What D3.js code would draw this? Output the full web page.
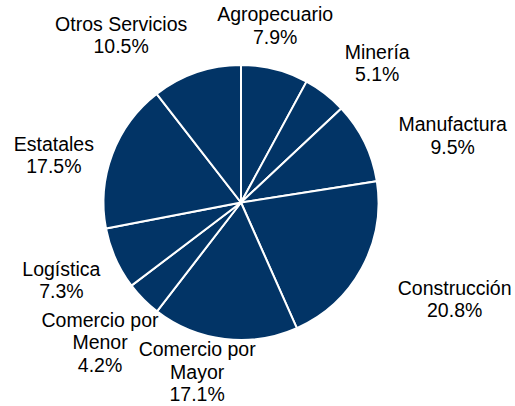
<!DOCTYPE html>
<html>
<head>
<meta charset="utf-8">
<script src="https://cdn.jsdelivr.net/npm/d3@7"></script>
<style>
  body { margin: 0; background: #fff; }
  text { font-family: "Liberation Sans", Arial, sans-serif; font-size: 19.5px; fill: #000; }
</style>
</head>
<body>
<div id="container"></div>
<script>
// sectores y participacion (%)
let sectors = ["Agropecuario", "Minería", "Manufactura", "Construcción", "Comercio por Mayor",
               "Comercio por Menor", "Logística", "Estatales", "Otros Servicios"];
let shares = [7.9, 5.1, 9.5, 20.8, 17.1, 4.2, 7.3, 17.5, 10.5];

let w = 515;
let h = 406;
let cx = 241;
let cy = 202.5;
let radius = 137.5;
let labelRadius = 200;
let lineH = 22.5;

// ajuste manual de etiquetas (tipo "best fit" de Excel)
let nudges = [[-15, 17], [14, 19], [32, 21], [38, 1], [-20, -29],
              [1, -1], [3, -4], [0, 23], [-55, 22]];

let svg = d3.select("#container")
  .append("svg")
  .attr("width", w)
  .attr("height", h);

let viz = svg.append("g")
  .attr("transform", "translate(" + cx + "," + cy + ")");

let pie = d3.pie().sort(null).value(d => d.value);
let data_ready = pie(sectors.map((s, i) => ({ key: s, value: shares[i] })));

let arc = d3.arc().innerRadius(0).outerRadius(radius);
let outerArc = d3.arc().innerRadius(labelRadius).outerRadius(labelRadius);

viz.selectAll("path")
  .data(data_ready)
  .enter()
  .append("path")
  .attr("d", arc)
  .attr("fill", "#023466")
  .attr("stroke", "#fff")
  .style("stroke-width", "2px");

let fmt = d3.format(".1f");

let labels = viz.selectAll("g.lbl")
  .data(data_ready)
  .enter()
  .append("g")
  .attr("class", "lbl")
  .attr("transform", (d, i) => {
    let p = outerArc.centroid(d);
    return "translate(" + (p[0] + nudges[i][0]) + "," + (p[1] + nudges[i][1]) + ")";
  });

labels.each(function(d) {
  let lines = d.data.key.replace(" por ", " por\n").split("\n");
  lines.push(fmt(d.data.value) + "%");
  let top = -(lines.length - 1) * lineH / 2;
  d3.select(this).selectAll("text")
    .data(lines)
    .enter()
    .append("text")
    .attr("text-anchor", "middle")
    .attr("y", (t, j) => top + j * lineH)
    .attr("dy", "0.35em")
    .text(t => t);
});
</script>
</body>
</html>
